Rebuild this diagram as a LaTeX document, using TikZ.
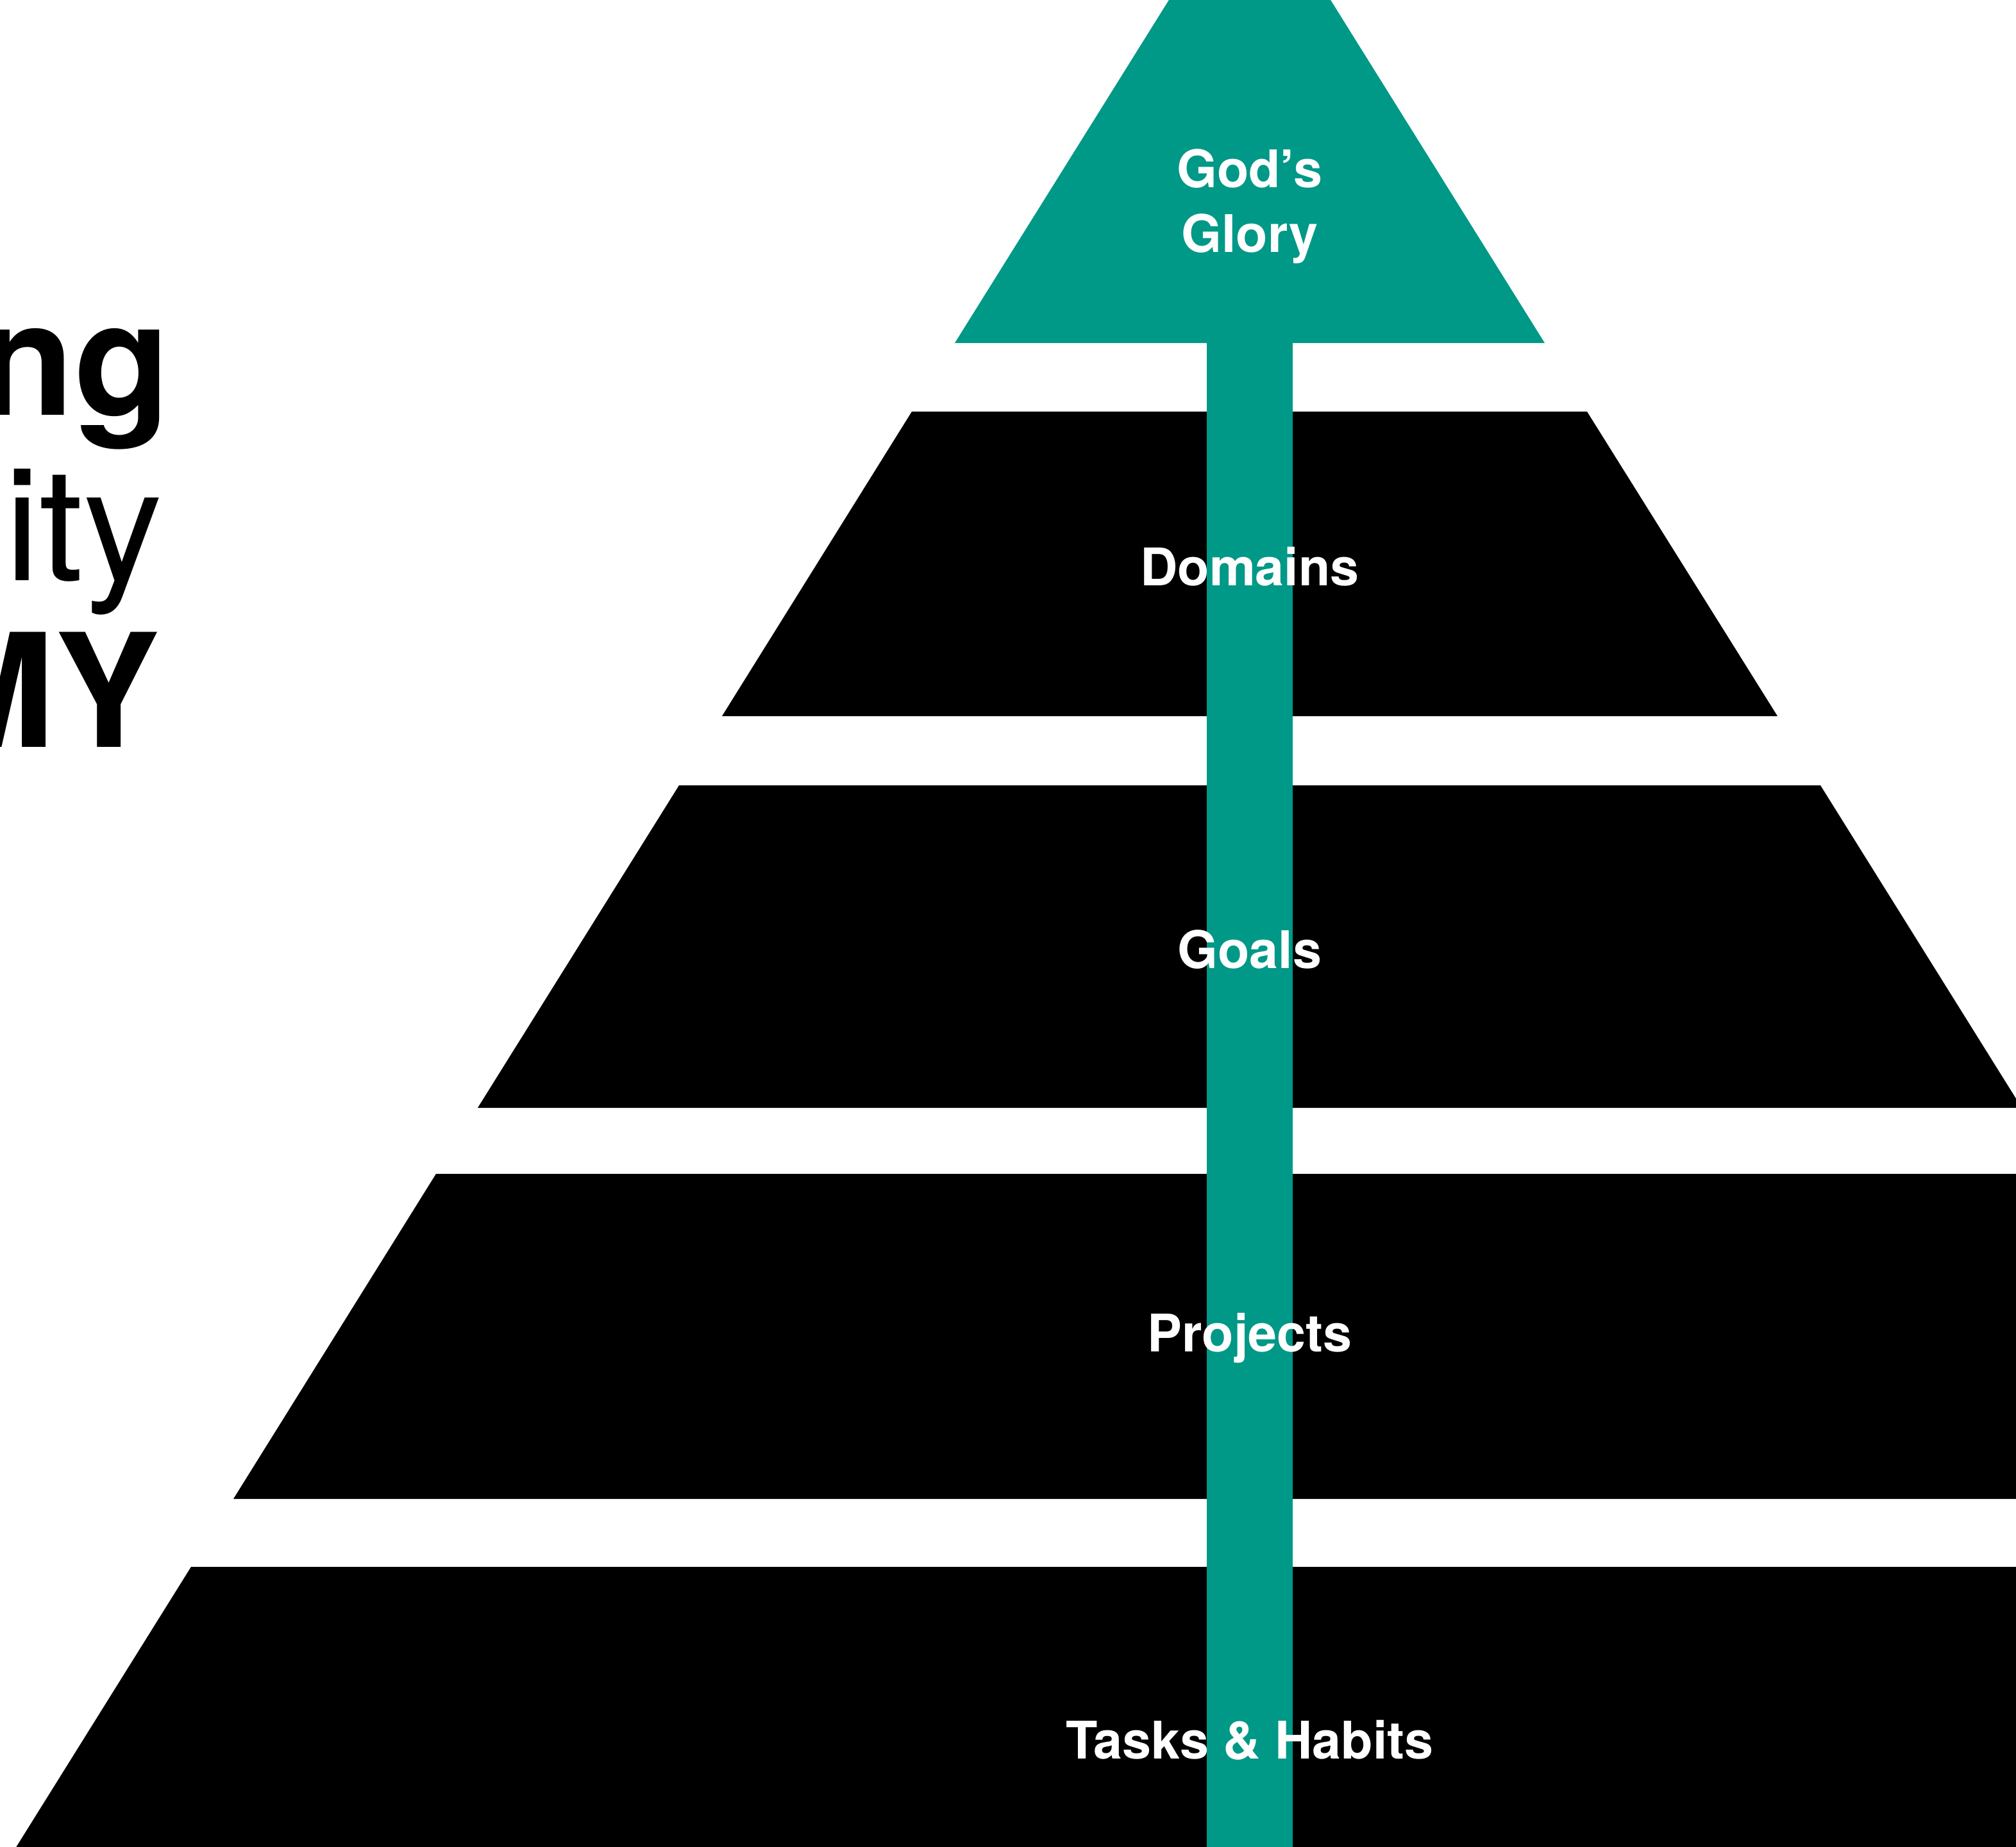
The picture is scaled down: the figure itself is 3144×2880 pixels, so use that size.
\documentclass[tikz,border=0pt]{standalone}
\usepackage{fontspec}
\setmainfont{TeX Gyre Heros}
\definecolor{gruen}{RGB}{0,152,135}

\begin{document}
\begin{tikzpicture}[x=0.01cm, y=-0.01cm,
        stufe/.style={fill=black},
        pfeil/.style={fill=gruen},
        etikett/.style={text=white, inner sep=0pt, anchor=base,
            font=\fontsize{23}{28}\selectfont\bfseries},
        titel/.style={text=black, inner sep=0pt, anchor=base east,
            font=\fontsize{70}{84}\selectfont}]
        % Blattrand
        \path[use as bounding box, clip] (0,0) rectangle (3144,2880);
        % Schriftzug links (angeschnitten)
        \node[titel, font=\fontsize{70}{84}\selectfont\bfseries] (zeile1) at (267,647) {ng};
        \node[titel] (zeile2) at (254,905) {ity};
        \node[titel, font=\fontsize{70}{84}\selectfont\bfseries] (zeile3) at (250,1165) {MY};
        % Stufen der Pyramide
        \fill[stufe] (1422,642) -- (2475,642) -- (2772,1117) -- (1126,1117) -- cycle;
        \fill[stufe] (1059,1225) -- (2839,1225) -- (3153,1728) -- (745,1728) -- cycle;
        \fill[stufe] (680,1831) -- (3218,1831) -- (3534,2338) -- (364,2338) -- cycle;
        \fill[stufe] (298,2444) -- (3600,2444) -- (3922,2960) -- (-24,2960) -- cycle;
        % Pfeil nach oben
        \fill[pfeil] (1949,-202) -- (2409,535) -- (1489,535) -- cycle;
        \fill[pfeil] (1882,530) rectangle (2016,2900);
        % Beschriftungen
        \node[etikett] (gottes) at (1949,292) {God’s};
        \node[etikett] (ehre) at (1949,393) {Glory};
        \node[etikett] (bereiche) at (1949,913) {Domains};
        \node[etikett] (ziele) at (1949,1510) {Goals};
        \node[etikett] (projekte) at (1949,2108) {Projects};
        \node[etikett] (aufgaben) at (1949,2743) {Tasks \& Habits};
    \end{tikzpicture}
\end{document}
